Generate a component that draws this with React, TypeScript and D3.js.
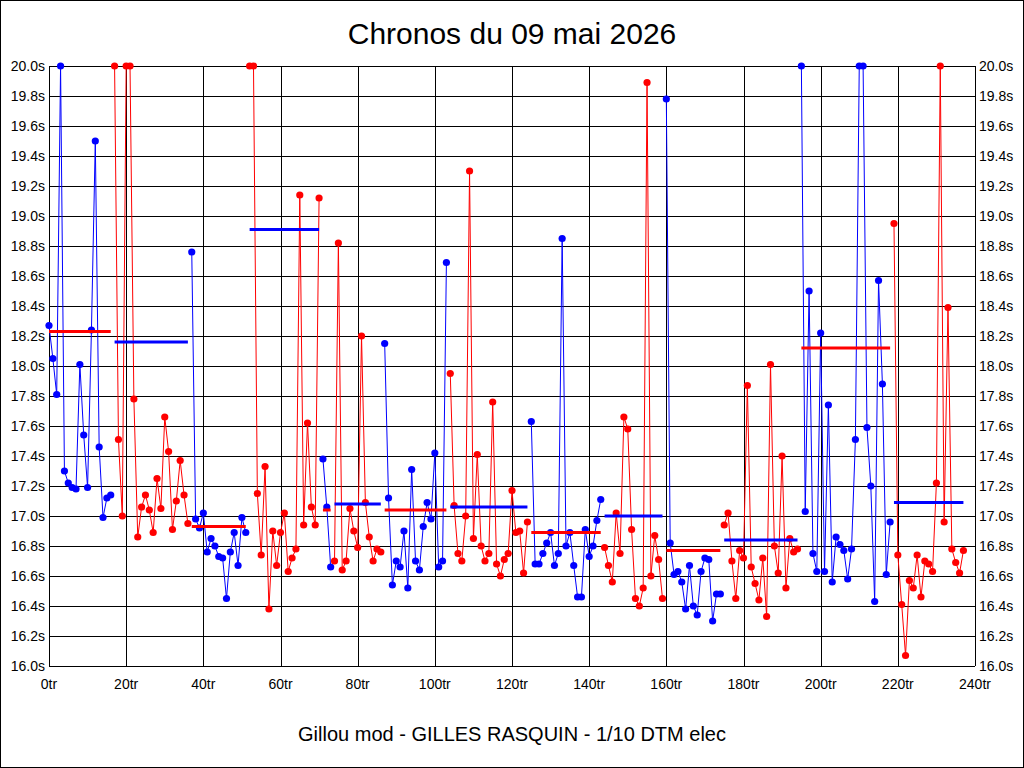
import React, { useEffect, useRef } from 'react';
import * as d3 from 'd3';

// lap times in seconds, one value per lap starting at lap 0 (values above 20.0s are shown clamped)
const lapTimes: number[] = [
  18.27, 18.05, 17.81, 20.0, 17.3, 17.22, 17.19, 17.18, 18.01, 17.54,
  17.19, 18.24, 19.5, 17.46, 16.99, 17.12, 17.14, 20.0, 17.51, 17.0,
  20.0, 20.0, 17.78, 16.86, 17.06, 17.14, 17.04, 16.89, 17.25, 17.05,
  17.66, 17.43, 16.91, 17.1, 17.37, 17.14, 16.95, 18.76, 16.98, 16.92,
  17.02, 16.76, 16.85, 16.8, 16.73, 16.72, 16.45, 16.76, 16.89, 16.67,
  16.99, 16.89, 20.0, 20.0, 17.15, 16.74, 17.33, 16.38, 16.9, 16.67,
  16.89, 17.02, 16.63, 16.72, 16.78, 19.14, 16.94, 17.62, 17.06, 16.94,
  19.12, 17.38, 17.06, 16.66, 16.7, 18.82, 16.64, 16.7, 17.05, 16.9,
  16.79, 18.2, 17.09, 16.86, 16.7, 16.78, 16.76, 18.15, 17.12, 16.54,
  16.7, 16.66, 16.9, 16.52, 17.31, 16.7, 16.64, 16.93, 17.09, 16.98,
  17.42, 16.66, 16.7, 18.69, 17.95, 17.07, 16.75, 16.7, 17.0, 19.3,
  16.85, 17.41, 16.8, 16.7, 16.75, 17.76, 16.68, 16.6, 16.71, 16.75,
  17.17, 16.89, 16.9, 16.62, 16.96, 17.63, 16.68, 16.68, 16.75, 16.82,
  16.89, 16.67, 16.75, 18.85, 16.8, 16.89, 16.67, 16.46, 16.46, 16.91,
  16.73, 16.8, 16.97, 17.11, 16.79, 16.67, 16.56, 17.02, 16.75, 17.66,
  17.58, 16.91, 16.45, 16.4, 16.52, 19.89, 16.6, 16.87, 16.71, 16.45,
  19.78, 16.82, 16.61, 16.63, 16.56, 16.38, 16.67, 16.4, 16.34, 16.63,
  16.72, 16.71, 16.3, 16.48, 16.48, 16.94, 17.02, 16.7, 16.45, 16.77,
  16.72, 17.87, 16.66, 16.55, 16.44, 16.72, 16.33, 18.01, 16.8, 16.62,
  17.4, 16.52, 16.85, 16.76, 16.78, 20.0, 17.03, 18.5, 16.75, 16.63,
  18.22, 16.63, 17.74, 16.56, 16.86, 16.81, 16.77, 16.58, 16.78, 17.51,
  20.0, 20.0, 17.59, 17.2, 16.43, 18.57, 17.88, 16.61, 16.96, 18.95,
  16.74, 16.41, 16.07, 16.57, 16.52, 16.74, 16.46, 16.7, 16.68, 16.63,
  17.22, 20.0, 16.96, 18.39, 16.78, 16.69, 16.62, 16.77,
];

// first lap of each stint
const stintStarts: number[] = [0, 17, 37, 52, 71, 74, 87, 104, 125, 144, 160, 175, 195, 219];

// stint average shown as a thick horizontal line
const stintAverages: number[] = [
  18.23, 18.16, 16.93, 18.91, 17.04, 17.08, 17.04, 17.06, 16.89, 17.0, 16.77, 16.84, 18.12, 17.09,
];

const yTicks: number[] = d3.range(0, 21).map(i => 16 + i * 0.2);
const xTicks: number[] = [0, 20, 40, 60, 80, 100, 120, 140, 160, 180, 200, 220, 240];

const title = 'Chronos du 09 mai 2026';
const footer = 'Gillou mod - GILLES RASQUIN - 1/10 DTM elec';

const BLUE = '#0000ff';
const RED = '#ff0000';

const App: React.FC = () => {
  const svgRef = useRef<SVGSVGElement>(null);

  useEffect(() => {
    if (!svgRef.current) return;
    const svg = d3.select(svgRef.current);
    svg.selectAll('*').remove();

    const width = 1024;
    const height = 768;
    const plot = { left: 49, right: 975, top: 66, bottom: 666 };
    const font = '"Liberation Sans", Arial, sans-serif';

    const x = d3.scaleLinear().domain([0, 240]).range([plot.left, plot.right]);
    const y = d3.scaleLinear().domain([16, 20]).range([plot.bottom, plot.top]);

    svg.append('rect').attr('width', width).attr('height', height).attr('fill', '#fff');
    svg
      .append('rect')
      .attr('x', 0.5)
      .attr('y', 0.5)
      .attr('width', width - 1)
      .attr('height', height - 1)
      .attr('fill', 'none')
      .attr('stroke', '#000');

    // grid
    const grid = svg.append('g').attr('stroke', '#000').attr('stroke-width', 1).attr('shape-rendering', 'crispEdges');
    grid
      .selectAll('line.h')
      .data(yTicks)
      .enter()
      .append('line')
      .attr('x1', plot.left)
      .attr('x2', plot.right)
      .attr('y1', d => Math.round(y(d)) + 0.5)
      .attr('y2', d => Math.round(y(d)) + 0.5);
    grid
      .selectAll('line.v')
      .data(xTicks)
      .enter()
      .append('line')
      .attr('x1', d => Math.round(x(d)) + 0.5)
      .attr('x2', d => Math.round(x(d)) + 0.5)
      .attr('y1', plot.top)
      .attr('y2', plot.bottom);

    // y labels both sides
    const labels = svg.append('g').attr('font-family', font).attr('font-size', 14).attr('fill', '#000');
    labels
      .selectAll('text.l')
      .data(yTicks)
      .enter()
      .append('text')
      .attr('x', plot.left - 4)
      .attr('y', d => y(d) + 5)
      .attr('text-anchor', 'end')
      .text(d => `${d.toFixed(1)}s`);
    labels
      .selectAll('text.r')
      .data(yTicks)
      .enter()
      .append('text')
      .attr('x', plot.right + 4)
      .attr('y', d => y(d) + 5)
      .attr('text-anchor', 'start')
      .text(d => `${d.toFixed(1)}s`);
    labels
      .selectAll('text.x')
      .data(xTicks)
      .enter()
      .append('text')
      .attr('x', d => x(d))
      .attr('y', plot.bottom + 23)
      .attr('text-anchor', 'middle')
      .text(d => `${d}tr`);

    // stints
    const line = d3
      .line<[number, number]>()
      .x(d => x(d[0]))
      .y(d => y(d[1]));

    stintStarts.forEach((start, i) => {
      const end = i + 1 < stintStarts.length ? stintStarts[i + 1] - 1 : lapTimes.length - 1;
      const pts: [number, number][] = d3.range(start, end + 1).map(l => [l, lapTimes[l]]);
      const color = i % 2 === 0 ? BLUE : RED;
      const avgColor = i % 2 === 0 ? RED : BLUE;

      svg
        .append('path')
        .datum(pts)
        .attr('d', line)
        .attr('fill', 'none')
        .attr('stroke', color)
        .attr('stroke-width', 1);

      svg
        .append('g')
        .selectAll('circle')
        .data(pts)
        .enter()
        .append('circle')
        .attr('cx', d => x(d[0]))
        .attr('cy', d => y(d[1]))
        .attr('r', 3.6)
        .attr('fill', color);

      svg
        .append('line')
        .attr('x1', x(start))
        .attr('x2', x(end))
        .attr('y1', y(stintAverages[i]))
        .attr('y2', y(stintAverages[i]))
        .attr('stroke', avgColor)
        .attr('stroke-width', 3);
    });

    // title and footer
    svg
      .append('text')
      .attr('x', width / 2)
      .attr('y', 44)
      .attr('text-anchor', 'middle')
      .attr('font-family', font)
      .attr('font-size', 30)
      .text(title);
    svg
      .append('text')
      .attr('x', width / 2)
      .attr('y', 741)
      .attr('text-anchor', 'middle')
      .attr('font-family', font)
      .attr('font-size', 20)
      .text(footer);
  }, []);

  return (
    <div style={{ position: 'absolute', left: 0, top: 0 }}>
      <svg ref={svgRef} width={1024} height={768} style={{ display: 'block' }}></svg>
    </div>
  );
};

export default App;
